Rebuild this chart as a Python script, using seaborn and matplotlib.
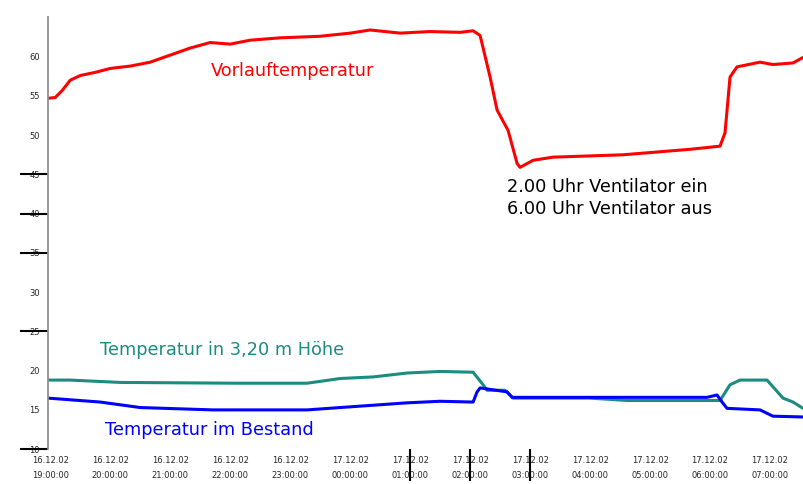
import pandas as pd
import matplotlib.pyplot as plt
import seaborn as sns

# Vorlauftemperatur (rot)
vorlauf_zeit = ["2002-12-16 18:58", "2002-12-16 19:05", "2002-12-16 19:12", "2002-12-16 19:20",
                "2002-12-16 19:30", "2002-12-16 19:45", "2002-12-16 20:00", "2002-12-16 20:20",
                "2002-12-16 20:40", "2002-12-16 21:00", "2002-12-16 21:20", "2002-12-16 21:40",
                "2002-12-16 22:00", "2002-12-16 22:20", "2002-12-16 22:50", "2002-12-16 23:30",
                "2002-12-17 00:00", "2002-12-17 00:20", "2002-12-17 00:50", "2002-12-17 01:20",
                "2002-12-17 01:50", "2002-12-17 02:03", "2002-12-17 02:10", "2002-12-17 02:20",
                "2002-12-17 02:27", "2002-12-17 02:38", "2002-12-17 02:47", "2002-12-17 02:50",
                "2002-12-17 03:03", "2002-12-17 03:23", "2002-12-17 04:33", "2002-12-17 05:40",
                "2002-12-17 06:10", "2002-12-17 06:15", "2002-12-17 06:20", "2002-12-17 06:27",
                "2002-12-17 06:50", "2002-12-17 07:03", "2002-12-17 07:23", "2002-12-17 07:33"]
vorlauf_temp = [54.7, 54.8, 55.7, 57.0, 57.6, 58.0, 58.5, 58.8, 59.3, 60.2, 61.1, 61.8,
                61.6, 62.1, 62.4, 62.6, 63.0, 63.4, 63.0, 63.2, 63.1, 63.3, 62.7, 57.4,
                53.2, 50.6, 46.4, 45.9, 46.8, 47.2, 47.5, 48.2, 48.6, 50.3, 57.4, 58.7,
                59.3, 59.0, 59.2, 59.9]

# Temperatur in 3,20 m Hoehe (tuerkis)
hoehe_zeit = ["2002-12-16 18:58", "2002-12-16 19:20", "2002-12-16 20:10", "2002-12-16 22:07",
              "2002-12-16 23:17", "2002-12-16 23:50", "2002-12-17 00:23", "2002-12-17 00:57",
              "2002-12-17 01:30", "2002-12-17 02:03", "2002-12-17 02:13", "2002-12-17 02:17",
              "2002-12-17 02:35", "2002-12-17 02:43", "2002-12-17 04:00", "2002-12-17 04:37",
              "2002-12-17 06:10", "2002-12-17 06:20", "2002-12-17 06:30", "2002-12-17 06:57",
              "2002-12-17 07:13", "2002-12-17 07:23", "2002-12-17 07:33"]
hoehe_temp = [18.8, 18.8, 18.5, 18.4, 18.4, 19.0, 19.2, 19.7, 19.9, 19.8, 18.2, 17.5,
              17.5, 16.5, 16.5, 16.2, 16.2, 18.2, 18.8, 18.8, 16.5, 16.0, 15.2]

# Temperatur im Bestand (blau)
bestand_zeit = ["2002-12-16 18:58", "2002-12-16 19:50", "2002-12-16 20:30", "2002-12-16 21:43",
                "2002-12-16 23:17", "2002-12-16 23:50", "2002-12-17 00:57", "2002-12-17 01:30",
                "2002-12-17 02:03", "2002-12-17 02:07", "2002-12-17 02:10", "2002-12-17 02:37",
                "2002-12-17 02:42", "2002-12-17 04:00", "2002-12-17 05:57", "2002-12-17 06:07",
                "2002-12-17 06:12", "2002-12-17 06:17", "2002-12-17 06:50", "2002-12-17 07:03",
                "2002-12-17 07:33"]
bestand_temp = [16.5, 16.0, 15.3, 15.0, 15.0, 15.3, 15.9, 16.1, 16.0, 17.3, 17.8, 17.3,
                16.6, 16.6, 16.6, 16.9, 16.0, 15.2, 15.0, 14.2, 14.1]

y_ticks = [10, 15, 20, 25, 30, 35, 40, 45, 50, 55, 60]
y_lange_striche = [10, 25, 35, 40, 45]
x_stunden = pd.date_range("2002-12-16 19:00", "2002-12-17 07:00", freq="h")
x_striche = ["2002-12-17 01:00", "2002-12-17 02:00", "2002-12-17 03:00"]

vorlauf = pd.DataFrame({"Zeit": pd.to_datetime(vorlauf_zeit), "Temp": vorlauf_temp})
hoehe = pd.DataFrame({"Zeit": pd.to_datetime(hoehe_zeit), "Temp": hoehe_temp})
bestand = pd.DataFrame({"Zeit": pd.to_datetime(bestand_zeit), "Temp": bestand_temp})

sns.set_style("white")
plt.rcParams['font.family'] = ['DejaVu Sans']

fig, ax = plt.subplots(figsize=(8.04, 4.84), dpi=100)
fig.subplots_adjust(left=0.06, right=1.0, bottom=0.072, top=0.964)

sns.lineplot(data=vorlauf, x="Zeit", y="Temp", color="#ff0000", linewidth=2.2, ax=ax)
sns.lineplot(data=hoehe, x="Zeit", y="Temp", color="#1a8c80", linewidth=2.2, ax=ax)
sns.lineplot(data=bestand, x="Zeit", y="Temp", color="#0000ff", linewidth=2.2, ax=ax)

ax.set_xlim(pd.Timestamp("2002-12-16 18:58"), pd.Timestamp("2002-12-17 07:34"))
ax.set_ylim(10, 65)
ax.set_xlabel("")
ax.set_ylabel("")

# Nebenstriche liegen auf Hauptstrichen, daher nicht entfernen lassen
ax.xaxis.remove_overlapping_locs = False
ax.yaxis.remove_overlapping_locs = False

ax.set_yticks(y_ticks)
ax.set_yticklabels([str(v) for v in y_ticks], fontsize=6)
ax.set_yticks(y_lange_striche, minor=True)
ax.tick_params(axis="y", which="major", length=0, pad=6)
ax.tick_params(axis="y", which="minor", length=20, width=1.5, color="black", left=True)

ax.set_xticks(x_stunden)
ax.set_xticklabels([d.strftime("%d.%m.%y\n%H:%M:%S") for d in x_stunden], fontsize=6,
                   linespacing=1.9)
ax.set_xticks(pd.to_datetime(x_striche), minor=True)
ax.tick_params(axis="x", which="major", length=0, pad=5)
ax.tick_params(axis="x", which="minor", length=23, width=1.5, color="black", bottom=True)

for s in ["top", "right", "bottom"]:
    ax.spines[s].set_visible(False)
ax.spines["left"].set_color("#909090")
ax.spines["left"].set_linewidth(1.3)

ax.text(pd.Timestamp("2002-12-16 21:41"), 58.2, "Vorlauftemperatur", color="#ff0000", fontsize=12.8,
        va="center")
ax.text(pd.Timestamp("2002-12-17 02:37"), 42.0, "2.00 Uhr Ventilator ein\n6.00 Uhr Ventilator aus",
        color="black", fontsize=12.8, va="center", linespacing=1.35)
ax.text(pd.Timestamp("2002-12-16 19:50"), 22.6, "Temperatur in 3,20 m Höhe", color="#1a8c80",
        fontsize=12.8, va="center")
ax.text(pd.Timestamp("2002-12-16 19:55"), 12.4, "Temperatur im Bestand", color="#0000ff",
        fontsize=12.8, va="center")

fig.savefig("out.png", dpi=100)
